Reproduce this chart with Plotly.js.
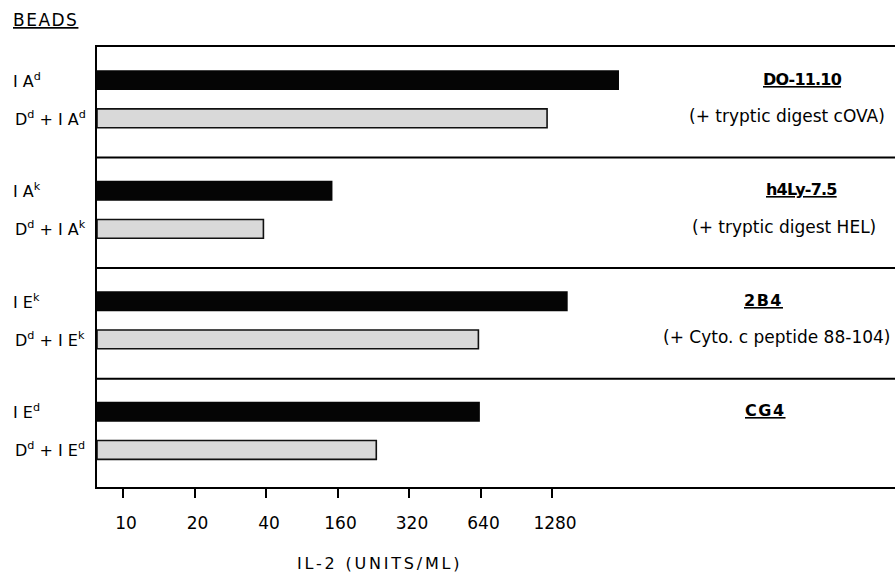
<!DOCTYPE html>
<html>
<head>
<meta charset="utf-8">
<script src="https://cdn.plot.ly/plotly-3.0.1.min.js"></script>
<style>html,body{margin:0;padding:0;background:#fff;}#chart{width:895px;height:576px;}</style>
</head>
<body>
<div id="chart"></div>
<script>
// ---- data ----
const tickLabels = ['10', '20', '40', '160', '320', '640', '1280'];
const tickValues = [10, 20, 40, 160, 320, 640, 1280];
const groupNames = ['DO-11.10', 'h4Ly-7.5', '2B4', 'CG4'];
const groupNotes = ['(+ tryptic digest cOVA)', '(+ tryptic digest HEL)', '(+ Cyto. c peptide 88-104)', ''];
const beadsAlone = ['I A<sup>d</sup>', 'I A<sup>k</sup>', 'I E<sup>k</sup>', 'I E<sup>d</sup>'];
const beadsWithDd = ['D<sup>d</sup> + I A<sup>d</sup>', 'D<sup>d</sup> + I A<sup>k</sup>', 'D<sup>d</sup> + I E<sup>k</sup>', 'D<sup>d</sup> + I E<sup>d</sup>'];
const il2Alone = [2450, 145, 1490, 636];   // IL-2 units/ml, class II beads alone
const il2WithDd = [1220, 39, 627, 233];    // IL-2 units/ml, D^d + class II beads

// ---- axis mapping (the printed axis is ordinal, each tick one step, log within a step) ----
function toAxis(v) {
  const n = tickValues.length;
  let i = 0;
  while (i < n - 2 && v >= tickValues[i + 1]) i++;
  return i + Math.log(v / tickValues[i]) / Math.log(tickValues[i + 1] / tickValues[i]);
}
const xMin = -0.364, xMax = 10.797;
const offAlone = 0.30, offDd = 0.645;
const F = 'DejaVu Sans';

const yAlone = groupNames.map((g, i) => i + offAlone);
const yDd = groupNames.map((g, i) => i + offDd);

const traces = [
  {
    type: 'bar', orientation: 'h',
    y: yAlone, x: il2Alone.map(v => toAxis(v) - xMin), base: xMin,
    width: 0.18, marker: {color: '#050505', line: {width: 0}},
    hoverinfo: 'skip', showlegend: false
  },
  {
    type: 'bar', orientation: 'h',
    y: yDd, x: il2WithDd.map(v => toAxis(v) - xMin), base: xMin,
    width: 0.17, marker: {color: '#d9d9d9', line: {color: '#111', width: 1.6}},
    hoverinfo: 'skip', showlegend: false
  }
];

const annotations = [];
const pxToPaperX = px => (px - 97) / 798;
groupNames.forEach((g, i) => {
  annotations.push({xref: 'paper', yref: 'y', x: pxToPaperX(11), y: i + offAlone, xanchor: 'left', yanchor: 'middle',
    text: beadsAlone[i], showarrow: false, font: {family: F, size: 16, color: '#000'}});
  annotations.push({xref: 'paper', yref: 'y', x: pxToPaperX(13), y: i + offDd, xanchor: 'left', yanchor: 'middle',
    text: beadsWithDd[i], showarrow: false, font: {family: F, size: 16, color: '#000'}});
});
const titleX = [802, 801, 763, 765];
const noteX = [787, 784, 776, 780];
const titleSpacing = [-0.8, -0.8, 1.5, 1.5];
groupNames.forEach((g, i) => {
  annotations.push({xref: 'paper', yref: 'y', x: pxToPaperX(titleX[i]), y: i + 0.29, xanchor: 'center', yanchor: 'middle',
    text: '<span style="letter-spacing:' + titleSpacing[i] + 'px"><b>' + g + '</b></span>', showarrow: false,
    font: {family: F, size: 16, color: '#000', lineposition: 'under'}});
  if (groupNotes[i]) {
    annotations.push({xref: 'paper', yref: 'y', x: pxToPaperX(noteX[i]), y: i + 0.625, xanchor: 'center', yanchor: 'middle',
      text: groupNotes[i], showarrow: false, font: {family: F, size: 17, color: '#000'}});
  }
});
annotations.push({xref: 'paper', yref: 'paper', x: pxToPaperX(11), y: (487 - 20) / 440, xanchor: 'left', yanchor: 'middle',
  text: '<span style="letter-spacing:1.5px">BEADS</span>', showarrow: false,
  font: {family: F, size: 17, color: '#000', lineposition: 'under'}});
annotations.push({xref: 'paper', yref: 'paper', x: pxToPaperX(379), y: (487 - 563) / 440, xanchor: 'center', yanchor: 'middle',
  text: '<span style="letter-spacing:2.8px">IL-2 (UNITS/ML)</span>', showarrow: false,
  font: {family: F, size: 16, color: '#000'}});

const shapes = [1, 2, 3].map(y => ({type: 'line', xref: 'paper', x0: 0, x1: 1, yref: 'y', y0: y, y1: y,
  line: {color: '#000', width: 2}}));

const layout = {
  width: 895, height: 576,
  margin: {l: 97, r: 0, t: 47, b: 89},
  paper_bgcolor: '#fff', plot_bgcolor: '#fff',
  font: {family: F, size: 15, color: '#000'},
  barmode: 'overlay',
  xaxis: {
    range: [xMin, xMax], tickmode: 'array', tickvals: tickLabels.map((t, i) => i), ticktext: tickLabels,
    ticks: 'outside', ticklen: 9, tickwidth: 2, tickcolor: '#000',
    showline: true, linecolor: '#000', linewidth: 2, mirror: true,
    showgrid: false, zeroline: false, ticklabelstandoff: 11, ticklabelshift: 3,
    tickfont: {family: F, size: 17, color: '#000'}, fixedrange: true
  },
  yaxis: {
    range: [3.98, 0], showticklabels: false, ticks: '',
    showline: true, linecolor: '#000', linewidth: 2, mirror: false,
    showgrid: false, zeroline: false, fixedrange: true
  },
  shapes: shapes,
  annotations: annotations
};

Plotly.newPlot('chart', traces, layout, {displayModeBar: false, staticPlot: true});
</script>
</body>
</html>
